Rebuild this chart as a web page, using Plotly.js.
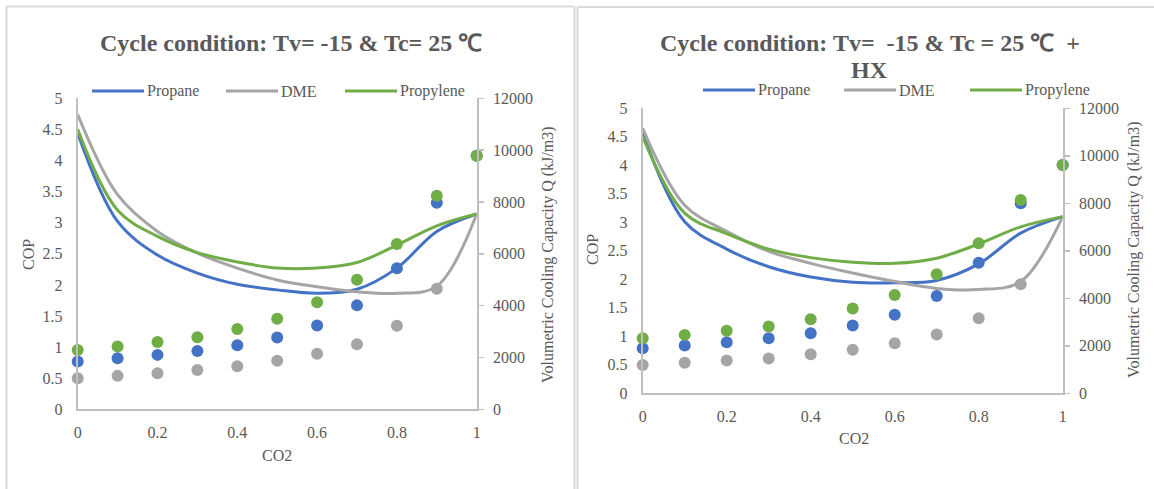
<!DOCTYPE html>
<html>
<head>
<meta charset="utf-8">
<script src="https://cdn.plot.ly/plotly-3.0.1.min.js"></script>
<style>html,body{margin:0;padding:0;background:#fff;}#chart{width:1154px;height:489px;}</style>
</head>
<body>
<div id="chart"></div>
<script>
// ---- data ----
const co2 = [0, 0.1, 0.2, 0.3, 0.4, 0.5, 0.6, 0.7, 0.8, 0.9, 1];
const seriesNames = ["Propane", "DME", "Propylene"];

// Chart A: Tv=-15 & Tc=25
const propaneCOP_A   = [4.44, 3.02, 2.48, 2.19, 2.01, 1.92, 1.865, 1.93, 2.27, 2.86, 3.14];
const dmeCOP_A       = [4.74, 3.45, 2.86, 2.51, 2.27, 2.08, 1.97, 1.89, 1.865, 1.98, 3.14];
const propyleneCOP_A = [4.50, 3.20, 2.78, 2.52, 2.37, 2.27, 2.27, 2.36, 2.64, 2.95, 3.14];
const propaneQ_A     = [1840, 1970, 2100, 2250, 2470, 2770, 3230, 4010, 5440, 7970, 9780];
const dmeQ_A         = [1200, 1290, 1390, 1520, 1660, 1870, 2140, 2510, 3220, 4650, 9780];
const propyleneQ_A   = [2290, 2420, 2600, 2780, 3100, 3490, 4130, 5000, 6380, 8240, 9780];

// Chart B: Tv=-15 & Tc=25 + HX
const propaneCOP_B   = [4.57, 3.01, 2.53, 2.22, 2.04, 1.95, 1.94, 1.98, 2.27, 2.81, 3.10];
const dmeCOP_B       = [4.65, 3.30, 2.84, 2.49, 2.28, 2.11, 1.96, 1.84, 1.82, 1.96, 3.10];
const propyleneCOP_B = [4.50, 3.16, 2.80, 2.53, 2.38, 2.30, 2.28, 2.37, 2.62, 2.92, 3.10];
const propaneQ_B     = [1900, 2010, 2150, 2320, 2530, 2850, 3310, 4100, 5500, 8000, 9610];
const dmeQ_B         = [1190, 1290, 1380, 1470, 1640, 1830, 2110, 2480, 3160, 4590, 9610];
const propyleneQ_B   = [2320, 2460, 2630, 2810, 3120, 3570, 4140, 5010, 6320, 8140, 9610];

const copTicks = [0, 0.5, 1, 1.5, 2, 2.5, 3, 3.5, 4, 4.5, 5];
const copTickText = ["0", "0.5", "1", "1.5", "2", "2.5", "3", "3.5", "4", "4.5", "5"];
const qTicks = [0, 2000, 4000, 6000, 8000, 10000, 12000];
const qTickText = ["0", "2000", "4000", "6000", "8000", "10000", "12000"];
const xTicks = [0, 0.2, 0.4, 0.6, 0.8, 1];
const xTickText = ["0", "0.2", "0.4", "0.6", "0.8", "1"];

const titleA = "Cycle condition: Tv= -15 & Tc= 25 \u2103";
const titleB1 = "Cycle condition: Tv=  -15 & Tc = 25 \u2103  +";
const titleB2 = "HX";
const xTitle = "CO2";
const yTitle = "COP";
const y2Title = "Volumetric Cooling Capacity Q (kJ/m3)";

// ---- styling ----
const colors = ["#4472C4", "#A5A5A5", "#70AD47"];
const W = 1154, H = 489;
const px = v => v / W;
const py = v => 1 - v / H;
const FONT = "Liberation Serif";
const TXT = "#595959";
const AX = "#BFBFBF";
const FS = 16;

const copA = [propaneCOP_A, dmeCOP_A, propyleneCOP_A];
const qA = [propaneQ_A, dmeQ_A, propyleneQ_A];
const copB = [propaneCOP_B, dmeCOP_B, propyleneCOP_B];
const qB = [propaneQ_B, dmeQ_B, propyleneQ_B];

const traces = [];
function addChart(cops, qs, xa, ya, ya2) {
  cops.forEach((c, i) => traces.push({
    x: co2, y: c, xaxis: xa, yaxis: ya, type: "scatter", mode: "lines",
    line: {color: colors[i], width: 3, shape: "spline", smoothing: 1},
    name: seriesNames[i], showlegend: false, cliponaxis: false, hoverinfo: "skip"
  }));
  qs.forEach((q, i) => traces.push({
    x: co2, y: q, xaxis: xa, yaxis: ya2, type: "scatter", mode: "markers",
    marker: {color: colors[i], size: 12},
    name: seriesNames[i] + " Q", showlegend: false, cliponaxis: false, hoverinfo: "skip"
  }));
}
addChart(copA, qA, "x", "y", "y2");
addChart(copB, qB, "x2", "y3", "y4");

const tickFont = {family: FONT, size: FS, color: TXT};
function xAxis(domain, anchor) {
  return {domain: domain, anchor: anchor, range: [0, 1], tickvals: xTicks, ticktext: xTickText,
    showgrid: false, zeroline: false, showline: true, linecolor: AX, linewidth: 2,
    ticks: "", tickfont: tickFont, ticklabelstandoff: 7, fixedrange: true};
}
function yAxis(domain, anchor) {
  return {domain: domain, anchor: anchor, range: [0, 5], tickvals: copTicks, ticktext: copTickText,
    showgrid: false, zeroline: false, showline: true, linecolor: AX, linewidth: 2,
    ticks: "", tickfont: tickFont, ticklabelstandoff: 10, fixedrange: true};
}
function y2Axis(overlay, anchor, domain) {
  return {overlaying: overlay, anchor: anchor, side: "right", domain: domain, range: [0, 12000],
    tickvals: qTicks, ticktext: qTickText,
    showgrid: false, zeroline: false, showline: true, linecolor: AX, linewidth: 2,
    ticks: "outside", ticklen: 5, tickcolor: AX, tickwidth: 1.5,
    tickfont: tickFont, ticklabelstandoff: 6, fixedrange: true};
}

const dA_x = [px(77.7), px(476.7)], dA_y = [py(409.3), py(98.3)];
const dB_x = [px(642.7), px(1062.7)], dB_y = [py(393.3), py(108.3)];

const annotations = [];
const shapes = [];
function ann(text, x, y, opts) {
  annotations.push(Object.assign({text: text, x: px(x), y: py(y), xref: "paper", yref: "paper",
    showarrow: false, xanchor: "center", yanchor: "middle",
    font: {family: FONT, size: FS, color: TXT}}, opts || {}));
}
// titles
const TF = {family: FONT, size: 24, color: TXT};
ann("<b>" + titleA + "</b>", 291, 43, {font: TF});
ann("<b>" + titleB1 + "</b>", 870, 43, {font: TF});
ann("<b>" + titleB2 + "</b>", 869, 70, {font: TF});
// axis titles
ann(xTitle, 277, 455);
ann(yTitle, 28, 255, {textangle: -90});
ann(y2Title, 548, 255, {textangle: -90});
ann(xTitle, 854, 438);
ann(yTitle, 592, 250, {textangle: -90});
ann(y2Title, 1134, 250, {textangle: -90});

// legends
function legend(lineStarts, y) {
  lineStarts.forEach((s, i) => {
    shapes.push({type: "line", xref: "paper", yref: "paper", x0: px(s), x1: px(s + 52), y0: py(y), y1: py(y),
      line: {color: colors[i], width: 3}});
    ann(seriesNames[i], s + 53, y, {xanchor: "left"});
  });
}
legend([92, 226, 345], 91);
legend([703, 844, 970], 90);

// panel borders
const BC = "#D9D9D9";
function ln(x0, y0, x1, y1) {
  shapes.push({type: "line", xref: "paper", yref: "paper", x0: px(x0), y0: py(y0), x1: px(x1), y1: py(y1),
    line: {color: BC, width: 2}});
}
ln(6.5, 6.5, 574.5, 6.5); ln(6.5, 6.5, 6.5, 489); ln(574.5, 6.5, 574.5, 489);
ln(577.5, 7, 1154, 7); ln(577.5, 7, 577.5, 489);

const layout = {
  width: W, height: H, margin: {l: 0, r: 0, t: 0, b: 0},
  paper_bgcolor: "#fff", plot_bgcolor: "rgba(0,0,0,0)", showlegend: false,
  font: {family: FONT, color: TXT},
  xaxis: xAxis(dA_x, "y"), yaxis: yAxis(dA_y, "x"), yaxis2: y2Axis("y", "x", dA_y),
  xaxis2: xAxis(dB_x, "y3"), yaxis3: yAxis(dB_y, "x2"), yaxis4: y2Axis("y3", "x2", dB_y),
  annotations: annotations, shapes: shapes
};

Plotly.newPlot("chart", traces, layout, {displayModeBar: false, staticPlot: true});
</script>
</body>
</html>
